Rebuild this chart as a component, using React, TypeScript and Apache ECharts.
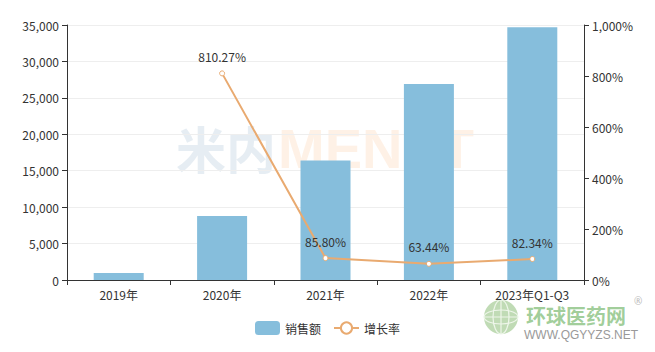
import React, { useEffect, useRef } from "react";
import * as echarts from "echarts";

const categories = ["2019年", "2020年", "2021年", "2022年", "2023年Q1-Q3"];
const salesValues = [960, 8790, 16400, 26900, 34700];
const growthValues: (number | null)[] = [null, 810.27, 85.8, 63.44, 82.34];
const leftTicks = { min: 0, max: 35000, interval: 5000 };
const rightTicks = { min: 0, max: 1000, interval: 200 };

const FONT = "'Noto Sans CJK SC', 'Noto Sans', sans-serif";

export default function App() {
  const ref = useRef<HTMLDivElement>(null);
  useEffect(() => {
    document.body.style.margin = "0";
    const chart = echarts.init(ref.current!, null, { renderer: "svg" });
    const fmt = (v: number) => v.toLocaleString("en-US");
    chart.setOption({
      animation: false,
      textStyle: { fontFamily: FONT },
      grid: { left: 67, right: 71, top: 25, bottom: 72 },
      legend: {
        bottom: 12,
        left: "center",
        itemWidth: 25,
        itemHeight: 14,
        itemGap: 12,
        textStyle: { color: "#333", fontSize: 12, fontFamily: FONT },
        data: [
          { name: "销售额", icon: "roundRect" },
          { name: "增长率" },
        ],
      },
      graphic: [
        {
          type: "group",
          z: -10,
          silent: true,
          children: [
            {
              type: "text",
              x: 176,
              y: 122,
              style: {
                text: "米内",
                font: "bold 50px 'Noto Sans CJK SC'",
                fill: "rgba(200,215,228,0.45)",
              },
            },
            {
              type: "text",
              x: 278,
              y: 120,
              style: {
                text: "MENET",
                font: "bold 56px 'Liberation Sans', Arial",
                fill: "rgba(252,225,200,0.45)",
              },
            },
          ],
        },
        {
          type: "group",
          silent: true,
          children: [
            { type: "circle", shape: { cx: 501, cy: 317, r: 17 }, style: { fill: "rgba(140,190,120,0.55)" } },
            { type: "ellipse", shape: { cx: 501, cy: 317, rx: 8, ry: 17 }, style: { fill: "none", stroke: "#eef6ea", lineWidth: 1.2 } },
            { type: "ellipse", shape: { cx: 501, cy: 317, rx: 17, ry: 7 }, style: { fill: "none", stroke: "#eef6ea", lineWidth: 1.2 } },
            { type: "line", shape: { x1: 501, y1: 300, x2: 501, y2: 334 }, style: { stroke: "#eef6ea", lineWidth: 1.2 } },
            { type: "line", shape: { x1: 484, y1: 317, x2: 518, y2: 317 }, style: { stroke: "#eef6ea", lineWidth: 1.2 } },
            {
              type: "text",
              x: 526,
              y: 305,
              style: {
                text: "环球医药网",
                font: "bold 20px 'Noto Sans CJK SC'",
                fill: "rgba(120,185,110,0.7)",
              },
            },
            {
              type: "text",
              x: 634,
              y: 296,
              style: { text: "®", font: "10px 'Noto Sans'", fill: "#bbb" },
            },
            {
              type: "text",
              x: 524,
              y: 329,
              style: { text: "WWW.QGYYZS.NET", font: "12px 'Liberation Sans', Arial", fill: "#999" },
            },
          ],
        },
      ],
      xAxis: {
        type: "category",
        data: categories,
        axisLine: { lineStyle: { color: "#333" } },
        axisTick: { show: true, alignWithLabel: false, lineStyle: { color: "#333" } },
        axisLabel: { color: "#333", fontSize: 12, margin: 7, lineHeight: 14 },
      },
      yAxis: [
        {
          type: "value",
          ...leftTicks,
          axisLine: { show: true, lineStyle: { color: "#333" } },
          axisTick: { show: true, lineStyle: { color: "#333" } },
          axisLabel: { color: "#333", fontSize: 12, formatter: (v: number) => fmt(v) },
          splitLine: { lineStyle: { color: "#eeeeee" } },
        },
        {
          type: "value",
          ...rightTicks,
          axisLine: { show: true, lineStyle: { color: "#333" } },
          axisTick: { show: true, lineStyle: { color: "#333" } },
          axisLabel: { color: "#333", fontSize: 12, formatter: (v: number) => fmt(v) + "%" },
          splitLine: { show: false },
        },
      ],
      series: [
        {
          name: "销售额",
          type: "bar",
          data: salesValues,
          barWidth: 50,
          z: 2,
          itemStyle: { color: "#86bedc" },
        },
        {
          name: "增长率",
          type: "line",
          yAxisIndex: 1,
          data: growthValues,
          z: 3,
          symbol: "circle",
          symbolSize: 5,
          showAllSymbol: true,
          lineStyle: { color: "#e9aa70", width: 2 },
          itemStyle: { color: "#ffffff", borderColor: "#e9aa70", borderWidth: 1 },
          label: {
            show: true,
            position: "top",
            distance: 8,
            color: "#333",
            fontSize: 12,
            formatter: (p: any) => p.value.toFixed(2) + "%",
          },
        },
      ],
    });
    return () => chart.dispose();
  }, []);
  return <div ref={ref} style={{ width: 655, height: 352 }} />;
}
